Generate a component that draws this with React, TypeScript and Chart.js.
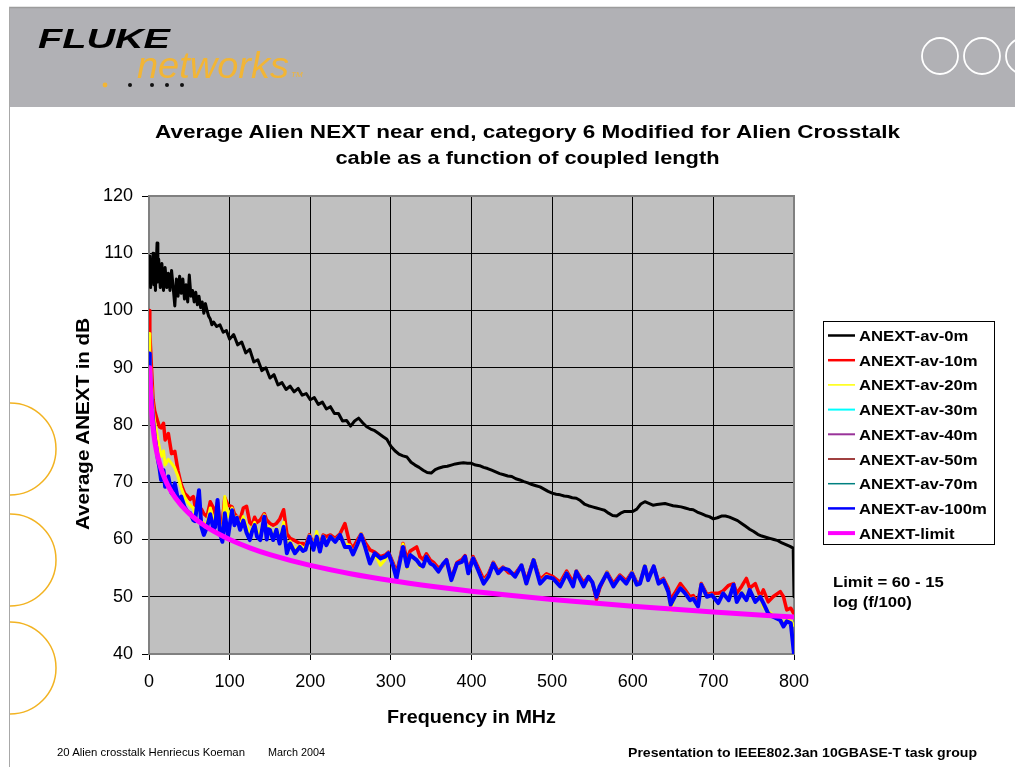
import React, { useEffect, useRef } from 'react';
import { Chart, registerables } from 'chart.js';

Chart.register(...registerables);

const FONT = '"Liberation Sans", Arial, Helvetica, sans-serif';

// ---------- data ----------
const xTicks = [0, 100, 200, 300, 400, 500, 600, 700, 800];
const yTicks = [40, 50, 60, 70, 80, 90, 100, 110, 120];

const seriesNames = [
  'ANEXT-av-0m', 'ANEXT-av-10m', 'ANEXT-av-20m', 'ANEXT-av-30m', 'ANEXT-av-40m',
  'ANEXT-av-50m', 'ANEXT-av-70m', 'ANEXT-av-100m', 'ANEXT-limit',
];
const seriesColors = ['#000000', '#FF0000', '#FFFF00', '#00FFFF', '#993399', '#800000', '#008080', '#0000FF', '#FF00FF'];

const blackFreq = [0,1,2,3,4,5,6,7,8,9,
  10,11,12,14,16,18,20,22,24,26,
  28,30,32,34,36,38,40,42,44,46,
  48,50,52,54,56,58,60,62,64,66,
  68,70,72,74,76,78,80,84,88,92,
  96,100,105,110,115,120,125,130,135,140,
  145,150,155,160,165,170,175,180,185,190,
  195,200,205,210,215,220,225,230,235,240,
  245,250,255,260,265,270,275,280,285,290,
  295,300,305,310,315,320,325,330,335,340,
  345,350,355,360,365,370,375,380,385,390,
  395,400,405,410,415,420,425,430,435,440,
  445,450,455,460,465,470,475,480,485,490,
  495,500,505,510,515,520,525,530,535,540,
  545,550,555,560,565,570,575,580,585,590,
  595,600,605,610,615,620,625,630,635,640,
  645,650,655,660,665,670,675,680,685,690,
  695,700,705,710,715,720,725,730,735,740,
  745,750,755,760,765,770,775,780,785,790,
  795,799,800];

const av0m = [106,109.5,104,108,105,110,104.5,107.5,103.5,108,
  111.8,105,109,104,108.2,103.5,107.5,104,106.5,103.5,
  107,104,100.8,105.5,102.5,106,103,105.5,102,104.5,
  101.5,106.2,102.5,103.5,101.5,103.2,101,102.5,100.5,101.5,
  99.5,101.2,100,99,98.5,97.5,98,97.2,97.5,96.2,
  96.5,95,95.8,94,94.5,92.6,93.2,91,91.4,89.5,
  90,88.2,88.8,87,87.4,86.2,86.8,85.8,86.4,85.2,
  85.5,84.4,84.8,83.6,84,82.8,83.2,82,82,80.7,
  80.8,79.8,80.7,81.2,80.4,79.7,79.3,79,78.5,78,
  77.5,76.3,75.5,74.9,74.6,74.4,73.5,73,72.6,72.1,
  71.7,71.6,72.2,72.5,72.7,72.8,73,73.2,73.3,73.4,
  73.3,73.3,73,72.9,72.6,72.4,72.1,71.8,71.5,71.3,
  71.1,71,70.6,70.4,70.1,69.9,69.6,69.4,69.2,68.8,
  68.4,68.1,67.9,67.8,67.6,67.5,67.3,67.2,66.8,66.2,
  65.9,65.7,65.5,65.3,65.1,64.6,64.2,64.1,64.6,64.9,
  64.9,64.9,65.3,66.2,66.6,66.3,66,66.1,66.2,66.3,
  66.1,65.9,65.8,65.7,65.5,65.3,65.2,64.8,64.5,64.2,
  64,63.6,63.8,64.1,64.1,63.9,63.6,63.3,62.8,62.3,
  61.8,61.4,60.9,60.6,60.4,60.2,60,59.8,59.4,59.1,
  58.8,58.5,50];

const lowFreq = [0,1,3,5,7,9,11,13,15,18,
  20,24,28,32,36,40,44,48,51,55,
  57,62,65,68,72,76,80,82,85,88,
  91,94,98,103,106,109,113,117,121,125,
  128,131,134,138,143,146,148,150,154,158,
  162,167,171,175,181,187,191,194,199,204,
  208,212,216,220,225,231,237,243,249,253,
  258,263,268,274,280,287,293,297,303,307,
  311,315,320,324,332,336,340,344,349,353,
  359,365,369,375,382,388,392,396,402,408,
  415,421,427,433,439,446,454,462,468,477,
  485,493,501,510,518,526,530,539,545,550,
  555,559,568,576,584,592,599,605,609,615,
  619,626,632,638,644,647,652,659,665,671,
  675,681,685,692,698,706,712,719,725,729,
  735,741,745,752,758,762,768,774,783,787,
  791,796,800];

const av10m = [100,96,90.2,84.5,82.5,81.5,80.5,79.7,79.5,80.3,
  77.4,78.5,75,75.4,72,69.6,68.1,67.5,67,67.5,
  66,65.7,65.3,64.5,64,66.6,65.5,64.3,66.5,62.8,
  63,67.3,66,65.7,64.5,64,63.5,65.5,65.8,63,
  62.5,63.9,63,63.4,64.5,63.4,63.1,62.8,62.5,62.8,
  63.5,65.2,61,60.2,59.8,59.3,59.3,59,60.8,59.2,
  60.8,59,60.8,60.5,60.8,60.2,61,62.8,59.3,58.5,
  59.8,61,59.5,58.2,57.8,57,57.3,57.8,55.8,54.2,
  56.5,59.3,56.5,58,58.7,57,56.5,57.5,56.4,56,
  55,55.5,56.5,53.2,56,56.5,57.2,54.7,57,55.2,
  53,54,56,54.5,55.2,54.2,54,55.5,52.8,56.5,
  53,54,53.5,52.5,54.5,52.5,54.5,52.5,53.5,52.5,
  49.5,51.5,54.3,52.3,53.8,52.8,54.3,52.5,52.5,55.3,
  53.2,55.3,52.6,53.2,51.5,49.5,50.6,52.3,51.2,50,
  50.2,49,52.3,50.4,50.6,50.6,51,52,52.3,50.6,
  51.8,53.2,51.5,52.3,50,51.2,49.1,50,50.9,50,
  47.7,48,47];

const av20m = [96,93,87.5,83,80.5,79,77.5,76,74.5,75.5,
  73,74,73.3,72.5,71,69,67.5,66.5,66,65.5,
  64.5,66.5,63.5,62.5,63,65.5,63.5,63,66.5,62,
  61,67.5,64,65.5,63.5,64,62.5,64,62.5,61,
  62,63,61.5,61,64.3,61,62.3,62,60.5,62,
  60,63,58.5,59.7,58.2,59,58.5,58.6,60.7,58.6,
  61.4,58.3,60.6,59.5,60.6,59.8,60.9,59.2,59,57.6,
  59.2,61,58.9,56.2,57.5,55.5,56.5,57.7,55.5,53.5,
  56.2,59.2,55,57.4,56.5,55.2,55.5,57.1,55.9,55.6,
  54.6,55.6,56.3,53,55.6,56.2,57,54.3,56.8,54.8,
  52.6,53.7,55.9,54.2,55.1,54.6,53.6,55.6,52.2,56.6,
  52.5,53.7,53.2,52,54.2,51.9,54.5,51.9,53.5,52.6,
  50,51.8,54.3,51.9,53.6,52.4,54.3,52.2,52.4,55.5,
  53,55.2,52.4,53,51,47.6,50.1,51.6,50.7,49.6,
  49.8,48.5,52.2,50.1,50.4,49,50.7,49.6,52.2,49.2,
  50.8,49.6,51.3,49.3,50.1,48.2,47.5,46.8,46.2,45.2,
  46,45.8,45];

const av100m = [92.5,90.2,85,81,78,76.2,74,72.5,70.4,72.1,
  69.2,71,68.1,69.8,66.9,67.5,65.7,64.8,64.6,63.4,
  63.2,68.6,62.2,60.8,62.2,64.4,61.7,62.2,66.9,61.1,
  59.6,64.6,60.5,65.1,62.5,63.8,61.7,63.3,61.2,59.9,
  61.5,62.5,60.5,59.9,64,60,61.8,61.7,59.9,61.7,
  59.3,62.2,57.6,59.3,57.6,58.7,58,58.2,60.5,58.2,
  60.5,57.9,60.5,59,60.5,59.6,60.8,58.7,58.7,57.4,
  59,60.8,58.7,55.8,57.6,56.7,57,57.6,55.3,53.2,
  56,58.7,55.3,57.3,56.4,55.6,55.3,57,55.8,55.5,
  54.4,55.8,56.4,52.9,55.8,56.1,57,54.1,56.7,54.7,
  52.3,53.5,55.8,54.1,55,54.7,53.5,55.5,52.3,56.4,
  52.3,53.5,53.2,51.8,54.1,51.8,54.4,51.8,53.5,52.5,
  50,51.8,54.1,51.8,53.5,52.3,54.1,52.1,52.3,55.3,
  52.9,55.3,52.3,52.9,50.9,48.6,50,51.5,50.6,49.4,
  49.7,48.3,52.1,50,50.3,48.9,50.6,49.4,52.1,49.1,
  50.6,49.4,51.2,49.1,50,48.9,47.1,46.5,45.9,44.8,
  45.7,45.4,40];

// hidden under the 100 m trace in the picture
const av30m = av100m;
const av40m = av100m;
const av50m = av100m;
const av70m = av100m;

const limitFreq = [1,2,3,4,5,7,8,10,15,20,25,30,35,40,50,60,70,80,90,100,125,150,200,250,300,350,400,450,500,600,700,800];
const limitDb = [90,85.49,82.84,80.97,79.52,77.32,76.45,75,72.36,70.49,69.03,67.84,66.84,65.97,64.52,63.33,62.32,61.45,60.69,60,58.55,57.36,55.48,54.03,52.84,51.84,50.97,50.2,49.52,48.33,47.32,46.45];

// ---------- chart ----------
const plotFrame = {
  id: 'plotFrame',
  beforeDraw(chart: any) {
    const { ctx, chartArea: a } = chart;
    ctx.save();
    ctx.fillStyle = '#C0C0C0';
    ctx.fillRect(a.left, a.top, a.right - a.left, a.bottom - a.top);
    ctx.restore();
  },
  beforeDatasetsDraw(chart: any) {
    const { ctx, chartArea: a } = chart;
    ctx.save();
    ctx.strokeStyle = '#808080';
    ctx.lineWidth = 2;
    ctx.strokeRect(a.left, a.top, a.right - a.left, a.bottom - a.top);
    ctx.restore();
  },
};

const pts = (xs: number[], ys: number[]) => xs.map((x, i) => ({ x, y: ys[i] }));

function T(props: any) {
  const { x, y, s, w = 'normal', a = 'start', sx = 1, fill = '#000', italic = false, len, rot = 0, children } = props;
  return (
    <text
      transform={`translate(${x},${y}) rotate(${rot}) scale(${sx},1)`}
      fontFamily={FONT}
      fontSize={s}
      fontWeight={w}
      fontStyle={italic ? 'italic' : 'normal'}
      textAnchor={a}
      fill={fill}
      textLength={len}
      lengthAdjust={len ? 'spacingAndGlyphs' : undefined}
    >
      {children}
    </text>
  );
}

const legendWidths = [2.5, 2.5, 1.5, 2, 2, 1.5, 1.5, 2.5, 4];

export default function App() {
  const ref = useRef<HTMLCanvasElement>(null);

  useEffect(() => {
    const canvas = ref.current!;
    const ds = (i: number, data: any[], width: number, extra: any = {}) => ({
      label: seriesNames[i],
      data,
      borderColor: seriesColors[i],
      backgroundColor: seriesColors[i],
      borderWidth: width,
      pointRadius: 0,
      fill: false,
      ...extra,
    });
    const chart = new Chart(canvas, {
      type: 'line',
      data: {
        datasets: [
          ds(8, pts(limitFreq, limitDb), 5, { cubicInterpolationMode: 'monotone' }),
          ds(7, pts(lowFreq, av100m), 4),
          ds(6, pts(lowFreq, av70m), 2),
          ds(5, pts(lowFreq, av50m), 2),
          ds(4, pts(lowFreq, av40m), 2),
          ds(3, pts(lowFreq, av30m), 2.5),
          ds(2, pts(lowFreq, av20m), 3),
          ds(1, pts(lowFreq, av10m), 3.5),
          ds(0, pts(blackFreq, av0m), 3),
        ],
      },
      options: {
        responsive: false,
        animation: false,
        devicePixelRatio: 1,
        layout: { padding: { left: 60, right: 221, top: 196, bottom: 53 } },
        plugins: { legend: { display: false }, tooltip: { enabled: false }, title: { display: false } },
        elements: { line: { tension: 0, borderJoinStyle: 'round', borderCapStyle: 'round' }, point: { radius: 0 } },
        scales: {
          x: {
            type: 'linear',
            min: 0,
            max: 800,
            afterFit: (s: any) => { s.height = 60; },
            afterBuildTicks: (s: any) => { s.ticks = xTicks.map((v) => ({ value: v })); },
            ticks: { stepSize: 100, color: '#000', font: { family: FONT, size: 18 }, padding: 11, maxRotation: 0, autoSkip: false },
            grid: { color: '#000', lineWidth: 1, tickLength: 6, tickColor: '#000' },
            border: { display: false },
          },
          y: {
            type: 'linear',
            min: 40,
            max: 120,
            afterFit: (s: any) => { s.width = 89; },
            afterBuildTicks: (s: any) => { s.ticks = yTicks.map((v) => ({ value: v })); },
            ticks: { stepSize: 10, color: '#000', font: { family: FONT, size: 18 }, padding: 9 },
            grid: { color: '#000', lineWidth: 1, tickLength: 7, tickColor: '#000' },
            border: { display: false },
          },
        },
      },
      plugins: [plotFrame],
    } as any);
    return () => chart.destroy();
  }, []);

  const rowY = (i: number) => 335.5 + i * 24.7;

  return (
    <div style={{ position: 'absolute', left: 0, top: 0, width: 1015, height: 767, background: '#fff', overflow: 'hidden' }}>
      <svg width={1015} height={767} style={{ position: 'absolute', left: 0, top: 0 }}>
        <defs>
          <clipPath id="leftClip"><rect x={10} y={0} width={200} height={767} /></clipPath>
        </defs>
        <rect x={10} y={8} width={1005} height={99} fill="#B1B1B5" />
        <line x1={9} y1={7.5} x2={1015} y2={7.5} stroke="#9C9C9C" strokeWidth={1.5} />
        <line x1={9.5} y1={7} x2={9.5} y2={767} stroke="#A8A8A8" strokeWidth={1} />
        <g fill="none" stroke="#FFFFFF" strokeWidth={1.8}>
          <circle cx={940} cy={56} r={18} />
          <circle cx={982} cy={56} r={18} />
          <circle cx={1024} cy={56} r={18} />
        </g>
        <g fill="none" stroke="#F2B322" strokeWidth={1.5} clipPath="url(#leftClip)">
          <circle cx={10} cy={449} r={46} />
          <circle cx={10} cy={560} r={46} />
          <circle cx={10} cy={668} r={46} />
        </g>
        <circle cx={105} cy={85} r={2.4} fill="#F2B535" />
        <circle cx={130} cy={85} r={2} fill="#111" />
        <circle cx={152} cy={85} r={2} fill="#111" />
        <circle cx={167} cy={85} r={2} fill="#111" />
        <circle cx={182} cy={85} r={2} fill="#111" />
      </svg>
      <canvas ref={ref} width={1015} height={767} style={{ position: 'absolute', left: 0, top: 0, width: 1015, height: 767 }} />
      <svg width={1015} height={767} style={{ position: 'absolute', left: 0, top: 0, pointerEvents: 'none' }}>
        <T x={38} y={48} s={28} w="bold" italic len={132}>FLUKE</T>
        <T x={137} y={78} s={37} italic fill="#F2B535" len={152}>networks</T>
        <T x={291} y={77} s={8} italic fill="#F2B535">TM</T>

        <T x={527.5} y={138} s={19} w="bold" a="middle" len={745}>Average Alien NEXT near end, category 6 Modified for Alien Crosstalk</T>
        <T x={527.5} y={164} s={19} w="bold" a="middle" len={384}>cable as a function of coupled length</T>

        <T x={89} y={424} s={18} w="bold" a="middle" rot={-90} len={212}>Average ANEXT in dB</T>
        <T x={471.5} y={723} s={18} w="bold" a="middle" len={169}>Frequency in MHz</T>

        <rect x={823.5} y={321.5} width={171} height={223} fill="#fff" stroke="#000" strokeWidth={1} />
        {seriesNames.map((n, i) => (
          <g key={n}>
            <line x1={828} x2={855} y1={rowY(i)} y2={rowY(i)} stroke={seriesColors[i]} strokeWidth={legendWidths[i]} />
            <T x={859} y={rowY(i) + 5.5} s={15.5} w="bold" sx={1.077}>{n}</T>
          </g>
        ))}

        <T x={833} y={587} s={15.5} w="bold" sx={1.077}>Limit = 60 - 15</T>
        <T x={833} y={607} s={15.5} w="bold" sx={1.077}>log (f/100)</T>

        <T x={57} y={756} s={11} len={188}>20 Alien crosstalk Henriecus Koeman</T>
        <T x={268} y={756} s={11} len={57}>March 2004</T>
        <T x={628} y={757} s={13} w="bold" len={349}>Presentation to IEEE802.3an 10GBASE-T task group</T>
      </svg>
    </div>
  );
}
